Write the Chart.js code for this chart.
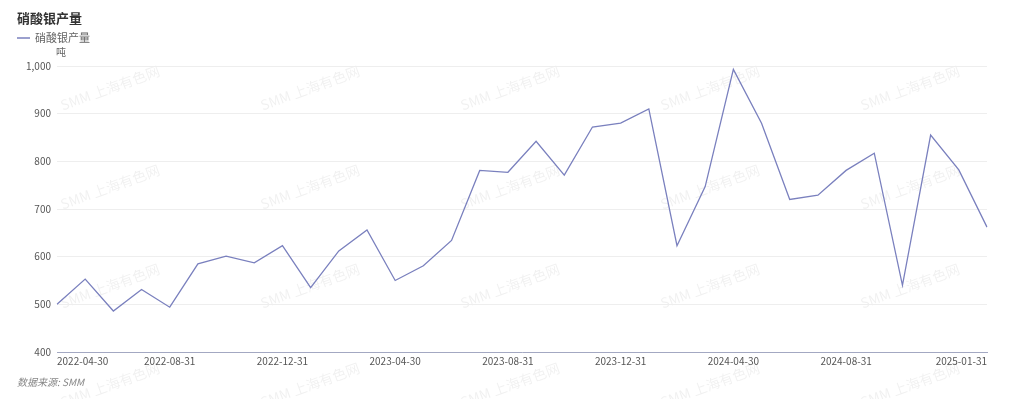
<!DOCTYPE html>
<html>
<head>
<meta charset="utf-8">
<script src="https://cdn.jsdelivr.net/npm/chart.js@4"></script>
<style>
  html, body { margin: 0; padding: 0; background: #fff; }
  #wrap { width: 1024px; height: 399px; position: relative; }
</style>
</head>
<body>
<div id="wrap"><canvas id="silverNitrateChart"></canvas></div>
<script>
const chartTitle = '硝酸银产量';
const seriesName = '硝酸银产量';
const unitLabel = '吨';
const sourceText = '数据来源: SMM';
const watermarkText = 'SMM 上海有色网';

// miesiące (koniec miesiąca)
const months = [
    '2022-04-30', '2022-05-31', '2022-06-30', '2022-07-31', '2022-08-31', '2022-09-30',
    '2022-10-31', '2022-11-30', '2022-12-31', '2023-01-31', '2023-02-28', '2023-03-31',
    '2023-04-30', '2023-05-31', '2023-06-30', '2023-07-31', '2023-08-31', '2023-09-30',
    '2023-10-31', '2023-11-30', '2023-12-31', '2024-01-31', '2024-02-29', '2024-03-31',
    '2024-04-30', '2024-05-31', '2024-06-30', '2024-07-31', '2024-08-31', '2024-09-30',
    '2024-10-31', '2024-11-30', '2024-12-31', '2025-01-31'
];

const production = [
    500, 553, 486, 531, 494, 585, 601, 587, 623, 535, 612, 656,
    550, 581, 634, 781, 777, 842, 771, 872, 880, 910, 623, 747,
    993, 880, 720, 729, 781, 817, 540, 855, 782, 662
];

// etykiety widoczne na osi X
const shownTicks = ['2022-04-30', '2022-08-31', '2022-12-31', '2023-04-30', '2023-08-31',
    '2023-12-31', '2024-04-30', '2024-08-31', '2025-01-31'];

const yMin = 400;
const yMax = 1000;
const yStep = 100;

const fontFamily = '"Noto Sans CJK SC", "Noto Sans", sans-serif';
const lineColor = 'rgb(122, 128, 190)';

const decorPlugin = {
    id: 'decor',
    beforeDraw(chart) {
        const ctx = chart.ctx;
        ctx.save();
        // znak wodny
        ctx.font = '14px ' + fontFamily;
        ctx.fillStyle = 'rgba(0, 0, 0, 0.06)';
        ctx.textAlign = 'center';
        ctx.textBaseline = 'middle';
        for (let row = 0; row < 4; row++) {
            for (let col = 0; col < 5; col++) {
                ctx.save();
                ctx.translate(110 + col * 200, 88 + row * 99);
                ctx.rotate(-20 * Math.PI / 180);
                ctx.fillText(watermarkText, 0, 0);
                ctx.restore();
            }
        }
        ctx.restore();
    },
    afterDraw(chart) {
        const ctx = chart.ctx;
        ctx.save();
        ctx.textBaseline = 'middle';
        ctx.textAlign = 'left';

        ctx.fillStyle = '#333';
        ctx.font = 'bold 13px ' + fontFamily;
        ctx.fillText(chartTitle, 17, 18);

        ctx.strokeStyle = lineColor;
        ctx.lineWidth = 1.5;
        ctx.beginPath();
        ctx.moveTo(17, 38);
        ctx.lineTo(30, 38);
        ctx.stroke();
        ctx.fillStyle = '#666';
        ctx.font = '11px ' + fontFamily;
        ctx.fillText(seriesName, 35, 38);

        ctx.font = '10px ' + fontFamily;
        ctx.fillStyle = '#666';
        ctx.fillText(unitLabel, 56, 52);

        ctx.font = 'italic 10px ' + fontFamily;
        ctx.fillStyle = '#888';
        ctx.fillText(sourceText, 17, 382);
        ctx.restore();
    }
};

const ctx = document.getElementById('silverNitrateChart').getContext('2d');

new Chart(ctx, {
    type: 'line',
    data: {
        labels: months,
        datasets: [{
            label: seriesName,
            data: production,
            borderColor: lineColor,
            borderWidth: 1.3,
            pointRadius: 0,
            tension: 0,
            fill: false
        }]
    },
    options: {
        responsive: true,
        maintainAspectRatio: false,
        animation: false,
        layout: {
            padding: { left: 0, right: 37, top: 66, bottom: 0 }
        },
        scales: {
            x: {
                grid: { display: false, drawTicks: false },
                border: { display: true, color: '#a3a8c2', width: 1 },
                ticks: {
                    autoSkip: false,
                    maxRotation: 0,
                    minRotation: 0,
                    align: 'inner',
                    padding: 3,
                    color: '#555',
                    font: { family: fontFamily, size: 10 },
                    callback: function (value, index) {
                        const label = months[index];
                        return shownTicks.includes(label) ? label : '';
                    }
                },
                afterFit: function (scale) {
                    scale.height = 47;
                }
            },
            y: {
                min: yMin,
                max: yMax,
                grid: { color: '#eeeeee', drawTicks: false },
                border: { display: false },
                ticks: {
                    stepSize: yStep,
                    padding: 6,
                    color: '#555',
                    font: { family: fontFamily, size: 10 },
                    callback: function (value) {
                        return value.toLocaleString('en-US');
                    }
                },
                afterFit: function (scale) {
                    scale.width = 57;
                }
            }
        },
        plugins: {
            legend: { display: false },
            title: { display: false },
            tooltip: { enabled: false }
        }
    },
    plugins: [decorPlugin]
});
</script>
</body>
</html>
